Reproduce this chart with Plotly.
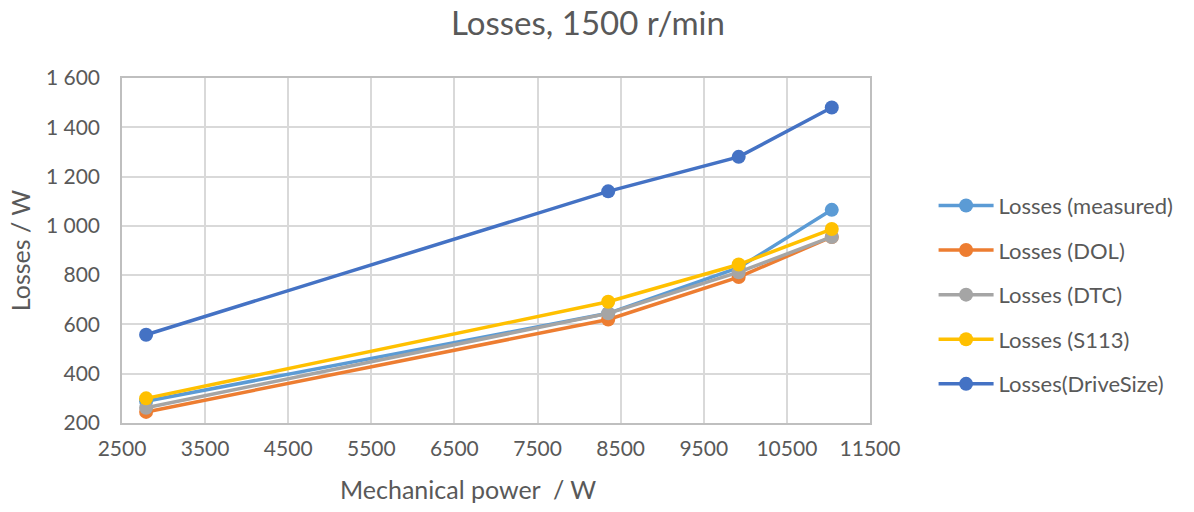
import plotly.graph_objects as go

# Mechanical power operating points (W)
power = [2790, 8350, 9920, 11040]

# Loss estimates per method (W)
losses_measured = [288, 645, 830, 1065]
losses_dol = [245, 620, 792, 955]
losses_dtc = [262, 645, 812, 955]
losses_s113 = [300, 692, 843, 987]
losses_drivesize = [558, 1140, 1280, 1480]

series_names = ["Losses (measured)", "Losses (DOL)", "Losses (DTC)", "Losses (S113)", "Losses(DriveSize)"]
series_values = [losses_measured, losses_dol, losses_dtc, losses_s113, losses_drivesize]
series_colors = ["#5B9BD5", "#ED7D31", "#A5A5A5", "#FFC000", "#4472C4"]

x_ticks = [2500, 3500, 4500, 5500, 6500, 7500, 8500, 9500, 10500, 11500]
y_ticks = [200, 400, 600, 800, 1000, 1200, 1400, 1600]
y_tick_labels = ["200", "400", "600", "800", "1 000", "1 200", "1 400", "1 600"]

font_family = "Lato, 'Open Sans', sans-serif"
text_color = "#595959"

fig = go.Figure()
for name, vals, color in zip(series_names, series_values, series_colors):
    fig.add_trace(go.Scatter(
        x=power, y=vals, name=name, mode="lines+markers",
        legendgroup=name,
        line=dict(color=color, width=3.5),
        marker=dict(color=color, size=14),
    ))

fig.update_layout(
    width=1194, height=512,
    margin=dict(l=122, r=324, t=78, b=89),
    paper_bgcolor="white", plot_bgcolor="white",
    font=dict(family=font_family, color=text_color, size=21),
    title=dict(text="Losses, 1500 r/min", x=588 / 1194, xanchor="center", xref="container",
               y=0.955, yanchor="middle", font=dict(size=33, color=text_color)),
    legend=dict(x=1.085, xanchor="left", y=0.372, yanchor="middle",
                font=dict(size=22, color=text_color), tracegroupgap=13,
                itemwidth=55),
    showlegend=True,
    annotations=[dict(
        text="Mechanical power  / W", xref="paper", yref="paper",
        x=(468 - 122) / 748, y=-0.19, xanchor="center", yanchor="middle",
        showarrow=False, font=dict(size=25, color=text_color),
    )],
)
fig.update_xaxes(
    range=[2500, 11500], tickvals=x_ticks, tickformat="d",
    showgrid=True, gridcolor="#D9D9D9", gridwidth=1.5,
    showline=True, linecolor="#BFBFBF", linewidth=1.5, mirror=True,
    ticks="", zeroline=False, ticklabelstandoff=6,
    tickfont=dict(size=21),
)
fig.update_yaxes(
    range=[200, 1600], tickvals=y_ticks, ticktext=y_tick_labels,
    showgrid=True, gridcolor="#D9D9D9", gridwidth=1.5,
    showline=True, linecolor="#BFBFBF", linewidth=1.5, mirror=True,
    ticks="", zeroline=False, ticklabelstandoff=16,
    title=dict(text="Losses / W", font=dict(size=25, color=text_color), standoff=8),
    tickfont=dict(size=21),
)

fig.write_html("out.html")
